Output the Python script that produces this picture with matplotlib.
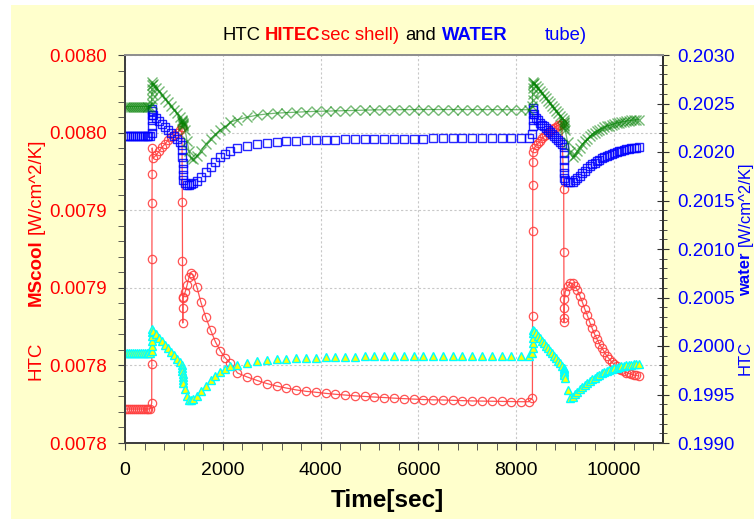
import matplotlib
matplotlib.use('Agg')
import matplotlib.pyplot as plt
from matplotlib.patches import Rectangle
from matplotlib.ticker import MultipleLocator, FixedLocator, FixedFormatter, FormatStrFormatter

plt.rcParams['font.family'] = ['Liberation Sans', 'DejaVu Sans']

# time [sec]
time_s = [0, 40, 80, 120, 160, 200, 240, 280, 320, 360, 400, 440, 480, 520,
          546, 548, 550, 552, 554, 556,
          580, 640, 700, 760, 820, 880, 940, 1000, 1060, 1120, 1165,
          1172, 1175, 1178, 1181, 1184, 1187,
          1230, 1270, 1310, 1350, 1390, 1470, 1550, 1650, 1750, 1850, 1950, 2050, 2150,
          2300, 2500, 2700, 2900, 3100, 3300, 3500, 3700, 3900, 4100, 4300, 4500, 4700,
          4900, 5100, 5300, 5500, 5700, 5900, 6100, 6300, 6500, 6700, 6900, 7100, 7300,
          7500, 7700, 7900, 8100, 8250,
          8330, 8332, 8334, 8336, 8338, 8340,
          8370, 8410, 8450, 8490, 8530, 8570, 8610, 8650, 8690, 8730, 8770, 8810, 8850, 8890, 8930,
          8970, 8973, 8976, 8979, 8982, 8985,
          9000, 9050, 9100, 9150, 9200, 9250, 9300, 9350, 9400, 9450, 9500, 9550, 9600,
          9650, 9700, 9750, 9800, 9850, 9900, 9950, 10000, 10050, 10100, 10150, 10200,
          10250, 10300, 10350, 10400, 10450, 10500]

# HTC HITEC (shell) - left axis
htc_hitec = [0.0077719] * 13 + [0.0077722,
             0.0077758, 0.0078009, 0.0078686, 0.0079046, 0.0079233, 0.0079401,
             0.0079336, 0.0079356, 0.0079381, 0.0079407, 0.0079427, 0.0079452, 0.0079472,
             0.0079485, 0.0079497, 0.0079517, 0.0079536,
             0.0079053, 0.0078673, 0.0078441, 0.0078273, 0.0078370, 0.0078434,
             0.0078473, 0.0078518, 0.0078570, 0.0078595, 0.0078583, 0.0078505, 0.0078409,
             0.0078312, 0.0078228, 0.0078151, 0.0078093, 0.0078048, 0.0078016,
             0.0077951, 0.0077925, 0.0077903, 0.0077883, 0.0077867, 0.0077854, 0.0077842,
             0.0077833, 0.0077827, 0.0077820, 0.0077814, 0.0077809, 0.0077804, 0.0077800,
             0.0077796, 0.0077793, 0.0077789, 0.0077786, 0.0077783, 0.0077780, 0.0077778,
             0.0077777, 0.0077775, 0.0077773, 0.0077771, 0.0077770, 0.0077769, 0.0077768,
             0.0077767, 0.0077766, 0.0077766,
             0.0077790, 0.0078318, 0.0078866, 0.0079162, 0.0079311, 0.0079375,
             0.0079401, 0.0079420, 0.0079433, 0.0079446, 0.0079462, 0.0079475, 0.0079485,
             0.0079497, 0.0079510, 0.0079520, 0.0079530, 0.0079539, 0.0079546, 0.0079552,
             0.0079562,
             0.0079137, 0.0078731, 0.0078280, 0.0078306, 0.0078370, 0.0078428,
             0.0078473, 0.0078512, 0.0078531, 0.0078528, 0.0078512, 0.0078486, 0.0078447,
             0.0078409, 0.0078363, 0.0078325, 0.0078280, 0.0078241, 0.0078202, 0.0078170,
             0.0078138, 0.0078112, 0.0078086, 0.0078061, 0.0078041, 0.0078022, 0.0078006,
             0.0077993, 0.0077980, 0.0077970, 0.0077961, 0.0077954, 0.0077948, 0.0077943,
             0.0077938, 0.0077935, 0.0077932]

# HTC water (tube) - right axis
htc_water = [0.202166] * 14 + [
             0.202194, 0.202266, 0.202328, 0.202380, 0.202421, 0.202442,
             0.202380, 0.202349, 0.202318, 0.202287, 0.202256, 0.202225, 0.202194,
             0.202163, 0.202132, 0.202101, 0.202070,
             0.202018, 0.201946, 0.201884, 0.201822, 0.201760, 0.201708,
             0.201677, 0.201656, 0.201656, 0.201667, 0.201677, 0.201703, 0.201739,
             0.201791, 0.201848, 0.201899, 0.201946, 0.201982, 0.202013,
             0.202039, 0.202063, 0.202080, 0.202094, 0.202104, 0.202111, 0.202116,
             0.202119, 0.202122, 0.202126, 0.202128, 0.202129, 0.202131, 0.202132,
             0.202133, 0.202134, 0.202135, 0.202136, 0.202138, 0.202139, 0.202140,
             0.202141, 0.202142, 0.202143, 0.202143, 0.202144, 0.202144, 0.202145,
             0.202145, 0.202146, 0.202146,
             0.202183, 0.202266, 0.202328, 0.202390, 0.202432, 0.202452,
             0.202390, 0.202354, 0.202328, 0.202304, 0.202282, 0.202266, 0.202245,
             0.202225, 0.202204, 0.202183, 0.202163, 0.202142, 0.202127, 0.202106,
             0.202085,
             0.202049, 0.201987, 0.201915, 0.201842, 0.201780, 0.201729,
             0.201708, 0.201692, 0.201687, 0.201692, 0.201708, 0.201729, 0.201755,
             0.201780, 0.201806, 0.201832, 0.201853, 0.201873, 0.201891, 0.201907,
             0.201922, 0.201935, 0.201949, 0.201961, 0.201972, 0.201982, 0.201991,
             0.202000, 0.202008, 0.202015, 0.202021, 0.202027, 0.202033, 0.202038,
             0.202042, 0.202046, 0.202049]

# green x series - right axis
htc_x = [0.202466] * 14 + [
         0.202494, 0.202545, 0.202597, 0.202649, 0.202690, 0.202721,
         0.202700, 0.202664, 0.202628, 0.202587, 0.202550, 0.202514, 0.202473,
         0.202437, 0.202401, 0.202359, 0.202328,
         0.202318, 0.202307, 0.202297, 0.202287, 0.202276, 0.202266,
         0.202225, 0.202111, 0.202008, 0.201935, 0.201925, 0.201956, 0.202013,
         0.202080, 0.202137, 0.202183, 0.202225, 0.202261, 0.202307,
         0.202333, 0.202359, 0.202380, 0.202392, 0.202401, 0.202406, 0.202411,
         0.202415, 0.202419, 0.202421, 0.202423, 0.202426, 0.202429, 0.202432,
         0.202434, 0.202435, 0.202436, 0.202437, 0.202438, 0.202438, 0.202438,
         0.202438, 0.202438, 0.202438, 0.202437, 0.202437, 0.202437, 0.202436,
         0.202436, 0.202436, 0.202436,
         0.202473, 0.202535, 0.202597, 0.202659, 0.202700, 0.202721,
         0.202711, 0.202685, 0.202659, 0.202633, 0.202607, 0.202581, 0.202556,
         0.202530, 0.202504, 0.202478, 0.202452, 0.202426, 0.202401, 0.202375,
         0.202349,
         0.202328, 0.202313, 0.202297, 0.202282, 0.202266, 0.202251,
         0.202225, 0.202101, 0.201997, 0.201946, 0.201966, 0.202008, 0.202044,
         0.202080, 0.202111, 0.202137, 0.202163, 0.202183, 0.202201, 0.202217,
         0.202230, 0.202242, 0.202254, 0.202264, 0.202273, 0.202282, 0.202289,
         0.202296, 0.202302, 0.202307, 0.202313, 0.202318, 0.202322, 0.202325,
         0.202328, 0.202331, 0.202333]

# yellow triangle series - right axis
htc_tri = [0.199927] * 14 + [
           0.199951, 0.200003, 0.200054, 0.200106, 0.200147, 0.200178,
           0.200158, 0.200121, 0.200085, 0.200049, 0.200013, 0.199977, 0.199941,
           0.199904, 0.199868, 0.199832, 0.199806,
           0.199775, 0.199744, 0.199713, 0.199682, 0.199651, 0.199620,
           0.199558, 0.199486, 0.199444, 0.199439, 0.199450, 0.199486, 0.199532,
           0.199589, 0.199646, 0.199693, 0.199734, 0.199765, 0.199791,
           0.199806, 0.199827, 0.199844, 0.199858, 0.199866, 0.199870, 0.199874,
           0.199878, 0.199881, 0.199884, 0.199886, 0.199888, 0.199890, 0.199892,
           0.199894, 0.199895, 0.199896, 0.199897, 0.199898, 0.199899] + [0.199899] * 11 + [
           0.199930, 0.199982, 0.200034, 0.200085, 0.200137, 0.200168,
           0.200158, 0.200132, 0.200106, 0.200080, 0.200054, 0.200028, 0.200003,
           0.199977, 0.199951, 0.199925, 0.199899, 0.199873, 0.199848, 0.199822,
           0.199796,
           0.199775, 0.199760, 0.199744, 0.199729, 0.199713, 0.199698,
           0.199672, 0.199548, 0.199465, 0.199475, 0.199501, 0.199527, 0.199553,
           0.199574, 0.199596, 0.199617, 0.199638, 0.199656, 0.199674, 0.199690,
           0.199705, 0.199718, 0.199731, 0.199742, 0.199752, 0.199762, 0.199770,
           0.199777, 0.199783, 0.199790, 0.199795, 0.199800, 0.199804, 0.199808,
           0.199811, 0.199814, 0.199817]

left_ticks = [0.00775, 0.00780, 0.00785, 0.00790, 0.00795, 0.00800]
left_labels = ['0.0078', '0.0078', '0.0079', '0.0079', '0.0080', '0.0080']

W, H = 754, 519
RED = '#FF0000'
BLUE = '#0000FF'

fig = plt.figure(figsize=(W / 100, H / 100), dpi=100, facecolor='white')
fig.add_artist(Rectangle((11 / W, 0), 1 - 11 / W, 1 - 5 / H, transform=fig.transFigure,
                         facecolor='#FFFFCC', edgecolor='none', zorder=-10))

ax = fig.add_axes([125 / W, 1 - 443 / H, 538 / W, 388 / H])
ax.set_facecolor('white')
ax2 = ax.twinx()

ax.plot(time_s, htc_hitec, color='#FF4040', lw=0.9, marker='o', ms=6,
        mfc='none', mec='#FF4040', mew=0.9, alpha=0.9)

ax2.plot(time_s, htc_tri, ls='none', marker='^', ms=6, mfc='#FFFF00', mec='#00FFFF', mew=1.0)
ax2.plot(time_s, htc_water, ls='none', marker='s', ms=5.5, mfc='none', mec=BLUE, mew=1.0, alpha=0.85)
ax2.plot(time_s, htc_x, color='#008000', lw=0.9, marker='x', ms=6.5, mew=1.0, alpha=0.55)

# axes
ax.set_xlim(0, 11000)
ax.xaxis.set_major_locator(MultipleLocator(2000))
ax.xaxis.set_minor_locator(MultipleLocator(400))
ax.set_ylim(0.00775, 0.00800)
ax.yaxis.set_major_locator(FixedLocator(left_ticks))
ax.yaxis.set_major_formatter(FixedFormatter(left_labels))
ax.yaxis.set_minor_locator(MultipleLocator(0.00001))

ax2.set_ylim(0.1990, 0.2030)
ax2.yaxis.set_major_locator(MultipleLocator(0.0005))
ax2.yaxis.set_major_formatter(FormatStrFormatter('%.4f'))
ax2.yaxis.set_minor_locator(MultipleLocator(0.0001))

ax.grid(True, which='major', color='#C8C8C8', ls=(0, (2, 2)), lw=0.8)
ax.set_axisbelow(True)

ax.tick_params(axis='x', which='both', direction='out', length=5, color='#404040',
               labelcolor='black', labelsize=14, pad=9)
ax.tick_params(axis='y', which='both', direction='out', length=5, color='#404040',
               labelcolor=RED, labelsize=13.5, pad=8)
ax2.tick_params(axis='y', which='major', direction='inout', length=9, color='#303030',
                labelcolor=BLUE, labelsize=13.5, pad=6)
ax2.tick_params(axis='y', which='minor', direction='inout', length=6, color='#303030')

for a in (ax, ax2):
    a.spines['left'].set_color('#404040')
    a.spines['bottom'].set_color('#404040')
    a.spines['right'].set_color('#303030')
    a.spines['top'].set_color('#909090')
    for s in a.spines.values():
        s.set_linewidth(1.4)

renderer = fig.canvas.get_renderer()


def chain(pieces, x_px, y_px, size, vertical=False, ha='left'):
    # multi-colour text, one piece after another
    for text, color, weight, gap in pieces:
        if vertical:
            y_px -= gap
            t = fig.text(x_px / W, 1 - y_px / H, text, color=color, fontweight=weight,
                         fontsize=size, rotation=90, ha=ha, va='bottom')
            y_px -= t.get_window_extent(renderer).height
        else:
            x_px += gap
            t = fig.text(x_px / W, 1 - y_px / H, text, color=color, fontweight=weight,
                         fontsize=size, ha='left', va='baseline')
            x_px += t.get_window_extent(renderer).width


chain([('HTC', 'black', 'normal', 0), ('HITEC', RED, 'bold', 5),
       ('sec shell)', RED, 'normal', 0), ('and', 'black', 'normal', 6),
       ('WATER', BLUE, 'bold', 6), ('tube)', BLUE, 'normal', 38)],
      222, 40, 13.3)

chain([('HTC', RED, 'normal', 0), ('MScool', RED, 'bold', 36),
       ('[W/cm^2/K]', RED, 'normal', 5)], 28, 380, 13.5, vertical=True)

chain([('HTC', BLUE, 'normal', 0), ('water', BLUE, 'bold', 45),
       ('[W/cm^2/K]', BLUE, 'normal', 6)], 753, 375, 12, vertical=True, ha='right')

fig.text(387 / W, 1 - 500 / H, 'Time[sec]', fontweight='bold', fontsize=17.5,
         ha='center', va='center')

fig.savefig('out.png', dpi=100, facecolor=fig.get_facecolor())
